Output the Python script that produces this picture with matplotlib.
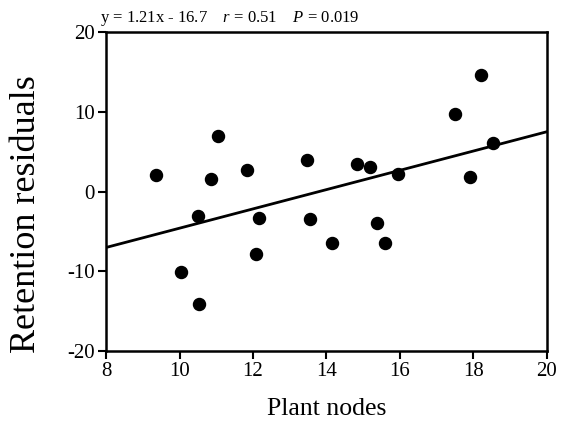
import numpy as np
import matplotlib
matplotlib.use("Agg")
import matplotlib.pyplot as plt

# Plant nodes vs retention residuals
nodes = [9.35, 10.03, 10.49, 10.52, 10.86, 11.05, 11.83, 12.07, 12.16, 13.47, 13.54,
         14.15, 14.82, 15.18, 15.38, 15.59, 15.95, 17.50, 17.91, 18.20, 18.52]
residuals = [2.1, -10.1, -3.1, -14.1, 1.6, 7.0, 2.7, -7.8, -3.3, 4.0, -3.5,
             -6.5, 3.4, 3.1, -3.9, -6.5, 2.2, 9.7, 1.8, 14.6, 6.1]

slope = 1.21
intercept = -16.7
fit_text = "y = 1.21x - 16.7    $r$ = 0.51    $P$ = 0.019"

x_ticks = [8, 10, 12, 14, 16, 18, 20]
y_ticks = [-20, -10, 0, 10, 20]

plt.rcParams["font.family"] = "Liberation Serif"
plt.rcParams["axes.unicode_minus"] = False
plt.rcParams["mathtext.fontset"] = "custom"
plt.rcParams["mathtext.it"] = "Liberation Serif:italic"
plt.rcParams["mathtext.rm"] = "Liberation Serif"

fig = plt.figure(figsize=(5.66, 4.23), dpi=100)
ax = fig.add_axes([0.1873, 0.1702, 0.7791, 0.7541])

ax.scatter(nodes, residuals, s=75, color="black", zorder=3)

xs = np.array([8, 20])
ax.plot(xs, slope * xs + intercept, color="black", lw=2)

ax.set_xlim(8, 20)
ax.set_ylim(-20, 20)
ax.set_xticks(x_ticks)
ax.set_yticks(y_ticks)
ax.tick_params(direction="out", length=6, width=1.5, labelsize=15, pad=2)
ax.tick_params(top=False, right=False)
for sp in ax.spines.values():
    sp.set_linewidth(1.8)

ax.set_xlabel("Plant nodes", fontsize=18.5, labelpad=12)
ax.set_ylabel("Retention residuals", fontsize=26)
ax.yaxis.set_label_coords(-0.142, 0.43)

ax.text(-0.014, 1.012, fit_text, transform=ax.transAxes, fontsize=12,
        ha="left", va="bottom")

fig.savefig("out.png", dpi=100)
